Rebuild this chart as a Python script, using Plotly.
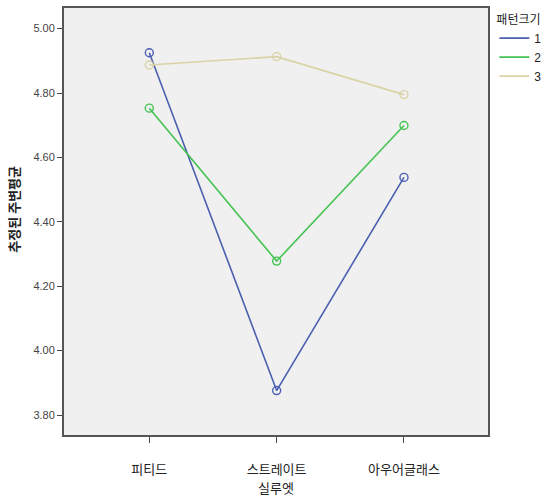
import plotly.graph_objects as go

categories = ["피티드", "스트레이트", "아우어글래스"]
series_names = ["1", "2", "3"]
values_1 = [4.925, 3.876, 4.538]
values_2 = [4.753, 4.278, 4.699]
values_3 = [4.887, 4.913, 4.795]
colors = ["#4a5fb0", "#45c352", "#d9d3a6"]
y_ticks = [3.80, 4.00, 4.20, 4.40, 4.60, 4.80, 5.00]

fig = go.Figure()
for name, vals, col in zip(series_names, [values_1, values_2, values_3], colors):
    fig.add_trace(go.Scatter(
        x=list(range(len(categories))), y=vals, name=name, mode="lines+markers",
        line=dict(color=col, width=1.6),
        marker=dict(symbol="circle-open", size=8, color=col, line=dict(width=1.4)),
        showlegend=False,
    ))
# legend entries (lines only, as in the reference)
for name, col in zip(series_names, colors):
    fig.add_trace(go.Scatter(
        x=[None], y=[None], name=name, mode="lines",
        line=dict(color=col, width=1.6), showlegend=True,
    ))

fig.update_layout(
    width=552, height=498,
    margin=dict(l=64, r=60, t=6, b=63),
    paper_bgcolor="white", plot_bgcolor="#f0f0f0",
    font=dict(family="Liberation Sans, Noto Sans CJK KR", size=11, color="#333333"),
    showlegend=True,
    legend=dict(
        x=1.015, y=1.0, xanchor="left", yanchor="top",
        title=dict(text="패턴크기", font=dict(family="Noto Sans CJK KR", size=12, color="#222222")),
        font=dict(size=12, color="#222222"), itemwidth=30, tracegroupgap=0,
        bgcolor="rgba(0,0,0,0)",
    ),
    xaxis=dict(
        range=[-0.67, 2.66], tickmode="array", tickvals=list(range(len(categories))),
        ticktext=categories, ticks="outside", ticklen=6, tickcolor="#444",
        ticklabelstandoff=15,
        tickfont=dict(family="Noto Sans CJK KR", size=13, color="#222"),
        showline=True, linecolor="#555555", linewidth=2, mirror=True,
        showgrid=False, zeroline=False,
        title=dict(text="실루엣", font=dict(family="Noto Sans CJK KR", size=13, color="#222"), standoff=2),
    ),
    yaxis=dict(
        range=[3.738, 5.064], tickmode="array", tickvals=y_ticks,
        ticktext=[f"{v:.2f}" for v in y_ticks], ticks="outside", ticklen=5, tickcolor="#444",
        tickfont=dict(size=11, color="#444"),
        showline=True, linecolor="#555555", linewidth=2, mirror=True,
        showgrid=False, zeroline=False,
    ),
    annotations=[dict(
        text="<b>추정된 주변평균</b>", textangle=-90, showarrow=False,
        xref="paper", yref="paper", x=-0.119, y=0.529, xanchor="center", yanchor="middle",
        font=dict(family="Noto Sans CJK KR", size=13, color="#222"),
    )],
)

fig.write_html("out.html", config={"displayModeBar": False},
               post_script="document.body.style.margin='0px';")
